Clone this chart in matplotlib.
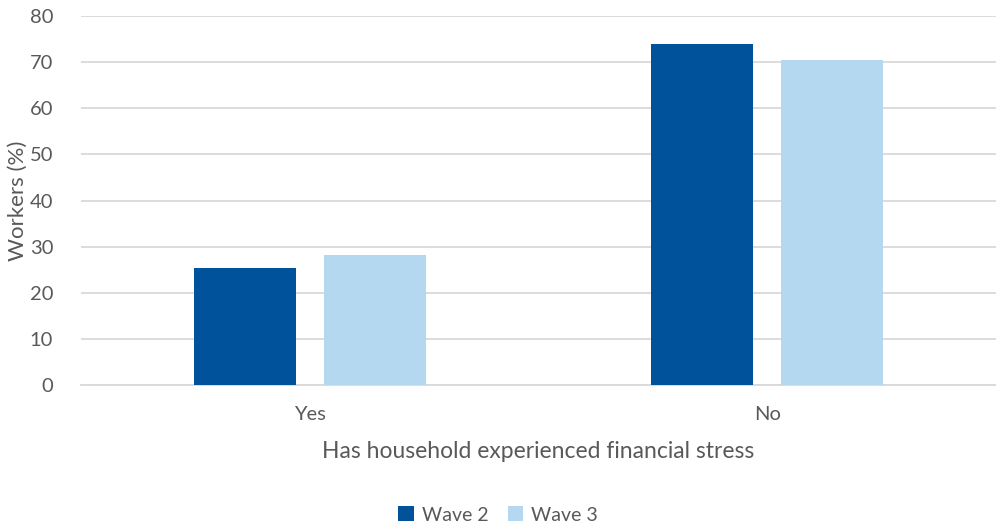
import numpy as np
import matplotlib.pyplot as plt

categories = ['Yes', 'No']
wave2 = [25.4, 73.9]
wave3 = [28.1, 70.4]
series_names = ['Wave 2', 'Wave 3']

plt.rcParams['font.family'] = ['Lato', 'DejaVu Sans']
txt = '#595959'

fig = plt.figure(figsize=(9.96, 5.26), dpi=100)
ax = fig.add_axes([81 / 996, 1 - 385 / 526, 915 / 996, 369 / 526])

x = np.arange(len(categories))
w = 0.223
off = 0.142
ax.bar(x - off, wave2, w, color='#00539B', label=series_names[0], zorder=3)
ax.bar(x + off, wave3, w, color='#B4D8EF', label=series_names[1], zorder=3)

ax.set_xlim(-0.5, 1.5)
ax.set_ylim(0, 80)
ax.set_yticks(range(0, 81, 10))
ax.yaxis.grid(True, color='#D9D9D9', linewidth=1.3, zorder=0)
for s in ['top', 'right', 'left']:
    ax.spines[s].set_visible(False)
ax.spines['bottom'].set_color('#D9D9D9')
ax.spines['bottom'].set_linewidth(1.3)
ax.tick_params(axis='both', length=0, labelsize=14.5, colors=txt)
ax.tick_params(axis='y', pad=20)
ax.tick_params(axis='x', pad=15)
ax.set_xticks(x)
ax.set_xticklabels(categories)

ax.set_ylabel('Workers (%)', fontsize=16, color=txt, labelpad=1)
ax.set_xlabel('Has household experienced financial stress', fontsize=16.5, color=txt, labelpad=13)

fig.legend(loc='center', bbox_to_anchor=(0.5, 1 - 515 / 526), ncol=2, frameon=False,
           fontsize=14, labelcolor=txt, handlelength=0.8, handleheight=0.8,
           handletextpad=0.4, columnspacing=1.0)

fig.savefig('out.png', dpi=100)
